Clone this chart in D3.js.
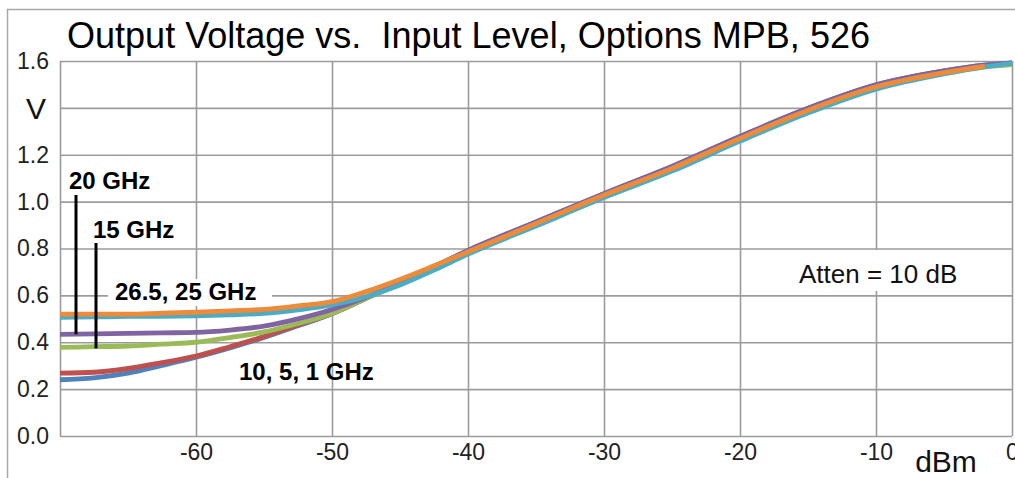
<!DOCTYPE html>
<html>
<head>
<meta charset="utf-8">
<script src="https://cdn.jsdelivr.net/npm/d3@7"></script>
<style>
  html, body { margin: 0; padding: 0; background: #fff; }
  svg { display: block; }
  text { font-family: "Liberation Sans", Arial, sans-serif; }
</style>
</head>
<body>
<svg id="chart" width="1015" height="478"></svg>
<script>
// ---- data ----
const dBm = [-70, -67.5, -65, -62.5, -60, -57.5, -55, -52.5, -50, -47.5, -45, -42.5, -40, -35, -30, -25, -20, -15, -10, -5, -2, 0];
const v1GHz   = [0.240, 0.248, 0.268, 0.301, 0.336, 0.376, 0.420, 0.470, 0.522, 0.587, 0.655, 0.722, 0.792, 0.913, 1.034, 1.150, 1.278, 1.398, 1.498, 1.558, 1.582, 1.592];
const v5GHz   = [0.268, 0.272, 0.288, 0.313, 0.341, 0.381, 0.424, 0.474, 0.523, 0.587, 0.652, 0.718, 0.788, 0.909, 1.030, 1.146, 1.273, 1.394, 1.494, 1.554, 1.578, 1.588];
const v15GHz  = [0.378, 0.381, 0.384, 0.392, 0.400, 0.420, 0.444, 0.480, 0.523, 0.587, 0.651, 0.716, 0.784, 0.905, 1.026, 1.140, 1.268, 1.388, 1.488, 1.550, 1.575, 1.585];
const v20GHz  = [0.434, 0.436, 0.438, 0.440, 0.442, 0.452, 0.469, 0.500, 0.540, 0.592, 0.658, 0.722, 0.792, 0.913, 1.034, 1.150, 1.278, 1.398, 1.498, 1.558, 1.582, 1.592];
const v25GHz  = [0.506, 0.508, 0.510, 0.511, 0.513, 0.517, 0.523, 0.538, 0.559, 0.594, 0.644, 0.708, 0.776, 0.896, 1.017, 1.130, 1.258, 1.378, 1.480, 1.545, 1.575, 1.590];
const v265GHz = [0.520, 0.520, 0.520, 0.524, 0.528, 0.534, 0.540, 0.555, 0.573, 0.616, 0.668, 0.726, 0.786, 0.907, 1.028, 1.142, 1.270, 1.390, 1.490, 1.550, 1.578, null];
const seriesNames = ["1 GHz", "5 GHz", "15 GHz", "20 GHz", "25 GHz", "26.5 GHz"];
const seriesValues = [v1GHz, v5GHz, v15GHz, v20GHz, v25GHz, v265GHz];
const seriesColors = ["#4F81BD", "#C0504D", "#9BBB59", "#8064A2", "#4BACC6", "#EE8A38"];
const xTicks = [-60, -50, -40, -30, -20, -10, 0];
const xGrid = [-70, -60, -50, -40, -30, -20, -10, 0];
const yTicks = [0, 0.2, 0.4, 0.6, 0.8, 1.0, 1.2, 1.4, 1.6];
const yLabelled = ["0.0", "0.2", "0.4", "0.6", "0.8", "1.0", "1.2", "1.6"];
const title = "Output Voltage vs.\u00a0\u00a0Input Level, Options MPB, 526";

// ---- layout ----
const svg = d3.select("#chart");
const L = 60, R = 1012, T = 61, B = 436;
const x = d3.scaleLinear().domain([-70, 0]).range([L, R]);
const y = d3.scaleLinear().domain([0, 1.6]).range([B, T]);
const gridColor = "#9c9c9c";
const tickFont = "'Liberation Sans', Arial, sans-serif";

// outer frame
svg.append("rect").attr("x", 7.5).attr("y", 9.5).attr("width", 1100).attr("height", 600)
  .attr("fill", "none").attr("stroke", "#a8a8a8").attr("stroke-width", 1.5);

// title
svg.append("text").attr("x", 67).attr("y", 48).attr("font-size", 36)
  .attr("textLength", 803).attr("lengthAdjust", "spacingAndGlyphs")
  .attr("fill", "#000").text(title);

// y axis / horizontal grid
const yAxis = svg.append("g").attr("transform", `translate(${L},0)`)
  .call(d3.axisLeft(y).tickValues(yTicks)
    .tickFormat(d => { const s = d.toFixed(1); return yLabelled.includes(s) ? s : ""; })
    .tickSizeInner(-(R - L)).tickSizeOuter(0).tickPadding(11));
yAxis.select(".domain").remove();
yAxis.selectAll(".tick line").attr("stroke", gridColor).attr("stroke-width", 1.6);
yAxis.selectAll(".tick text").attr("font-size", 23).attr("fill", "#222").attr("font-family", tickFont);

// x axis / vertical grid
const xAxis = svg.append("g").attr("transform", `translate(0,${B})`)
  .call(d3.axisBottom(x).tickValues(xGrid).tickFormat(d => xTicks.includes(d) ? String(d) : "")
    .tickSizeInner(-(B - T)).tickSizeOuter(0).tickPadding(8));
xAxis.select(".domain").remove();
xAxis.selectAll(".tick line").attr("stroke", gridColor).attr("stroke-width", 1.6);
xAxis.selectAll(".tick text").attr("font-size", 23).attr("fill", "#222").attr("font-family", tickFont);

// axis unit labels
svg.append("text").attr("x", 36).attr("y", 119).attr("font-size", 30)
  .attr("text-anchor", "middle").attr("fill", "#111").text("V");
svg.append("text").attr("x", 946).attr("y", 472).attr("font-size", 30)
  .attr("text-anchor", "middle").attr("fill", "#111").text("dBm");

// annotation boxes (white backgrounds)
svg.append("rect").attr("x", 108).attr("y", 279).attr("width", 164).attr("height", 27).attr("fill", "#fff");
svg.append("rect").attr("x", 790).attr("y", 250).attr("width", 178).attr("height", 41).attr("fill", "#fff");

// series lines
const line = d3.line()
  .defined(d => d[1] != null)
  .x(d => x(d[0])).y(d => y(d[1]))
  .curve(d3.curveMonotoneX);
seriesValues.forEach((vals, i) => {
  svg.append("path")
    .datum(dBm.map((d, j) => [d, vals[j]]))
    .attr("fill", "none")
    .attr("stroke", seriesColors[i])
    .attr("stroke-width", 4.8)
    .attr("stroke-linejoin", "round")
    .attr("stroke-linecap", "butt")
    .attr("data-name", seriesNames[i])
    .attr("d", line);
});

// pointers
svg.append("line").attr("x1", 76).attr("x2", 76).attr("y1", 195).attr("y2", y(0.434))
  .attr("stroke", "#000").attr("stroke-width", 3);
svg.append("line").attr("x1", 96).attr("x2", 96).attr("y1", 243).attr("y2", y(0.378) + 1)
  .attr("stroke", "#000").attr("stroke-width", 3);

// annotation texts
const bold = { "font-size": 24, "font-weight": "bold", fill: "#000" };
function addText(tx, ty, str, attrs) {
  const t = svg.append("text").attr("x", tx).attr("y", ty).text(str);
  Object.entries(attrs).forEach(([k, v]) => t.attr(k, v));
  return t;
}
addText(69, 189, "20 GHz", bold);
addText(93, 238, "15 GHz", bold);
addText(115, 300, "26.5, 25 GHz", bold);
addText(239, 380, "10, 5, 1 GHz", bold);
addText(799, 283, "Atten = 10 dB", { "font-size": 26, fill: "#111" });
</script>
</body>
</html>
